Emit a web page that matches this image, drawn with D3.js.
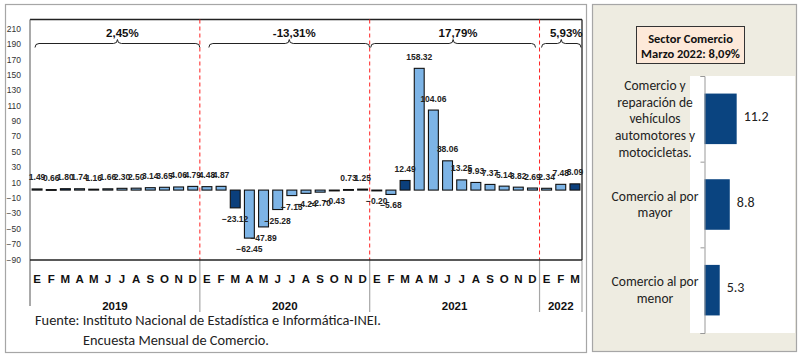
<!DOCTYPE html>
<html><head><meta charset="utf-8">
<script src="https://cdn.jsdelivr.net/npm/d3@7"></script>
<style>
body{margin:0;background:#fff;}
svg{display:block;}
</style></head>
<body>
<svg id="c" width="800" height="357"></svg>
<script>
// ---- data ----
const months = ["E","F","M","A","M","J","J","A","S","O","N","D"];
const years = ["2019","2020","2021","2022"];
const v2019 = [1.49,0.66,1.80,1.74,1.16,1.66,2.30,2.50,3.14,3.65,4.06,4.79];
const v2020 = [4.48,4.87,-23.12,-62.45,-47.89,-25.28,-7.15,-4.24,-2.70,-0.43,0.73,1.25];
const v2021 = [-0.20,-5.68,12.49,158.32,104.06,38.06,13.25,9.93,7.37,5.14,3.82,2.69];
const v2022 = [2.34,7.48,8.09];
const yearGrowth = ["2,45%","-13,31%","17,79%","5,93%"];
const yTicks = [210,190,170,150,130,110,90,70,50,30,10,-10,-30,-50,-70,-90];
const highlightMonth = "M"; // March bars in dark
const sectorTitle = ["Sector Comercio","Marzo 2022: 8,09%"];
const sectorCats = [
  ["Comercio y","reparación de","vehículos","automotores y","motocicletas."],
  ["Comercio al por","mayor"],
  ["Comercio al por","menor"]
];
const sectorVals = [11.2, 8.8, 5.3];
const source = ["Fuente: Instituto Nacional de Estadística e Informática-INEI.","Encuesta Mensual de Comercio."];

const yearVals = [v2019,v2020,v2021,v2022];
const data = [];
yearVals.forEach((arr,yi)=>arr.forEach((v,mi)=>data.push({year:years[yi],yi,mi,m:months[mi],v,i:data.length})));

const svg = d3.select("#c");
const NARROW = "'Liberation Sans Narrow','Arial Narrow','Liberation Sans',Arial,sans-serif";
const SANS = "'Liberation Sans',Arial,sans-serif";
const CAL = "Carlito,Calibri,Lato,'Liberation Sans',sans-serif";
const DARK = "#0b3f7c", LIGHT = "#7db4e6";

// ---- left panel ----
svg.append("rect").attr("x",5.5).attr("y",4.5).attr("width",581).attr("height",348)
  .attr("fill","#fff").attr("stroke","#a6a6a6").attr("stroke-width",1.2);

const L=30, R=582, T=19.5, B=260;
const x = d3.scaleBand().domain(d3.range(data.length)).range([L,R]).paddingInner(0.3).paddingOuter(0.15);
const y = d3.scaleLinear().domain([-90,210]).range([259.3,28.6]);
const step = x.step();
const bound = k => L + k*step;

// frame top and right
svg.append("line").attr("x1",L).attr("x2",R).attr("y1",T).attr("y2",T).attr("stroke","#222").attr("stroke-width",1.3);
svg.append("line").attr("x1",R).attr("x2",R).attr("y1",T).attr("y2",B).attr("stroke","#222").attr("stroke-width",1.3);

// y axis
const yAxis = d3.axisLeft(y).tickValues(yTicks).tickSize(0).tickPadding(9).tickFormat(d3.format("d"));
const gy = svg.append("g").attr("transform",`translate(${L},0)`).call(yAxis);
gy.select(".domain").remove();
gy.selectAll("text").attr("font-family",NARROW).attr("font-size",8.5).attr("fill","#333");
svg.append("line").attr("x1",L).attr("x2",L).attr("y1",T).attr("y2",306).attr("stroke","#555").attr("stroke-width",1);

// year separators below axis
[12,24,36,39].forEach(k=>{
  svg.append("line").attr("x1",bound(k)).attr("x2",bound(k)).attr("y1",B).attr("y2",312)
    .attr("stroke","#a6a6a6").attr("stroke-width",1.2);
});

// red dashed lines
[12,24,36].forEach(k=>{
  svg.append("line").attr("x1",bound(k)).attr("x2",bound(k)).attr("y1",T).attr("y2",B)
    .attr("stroke","#ff2020").attr("stroke-width",1).attr("stroke-dasharray","4,3");
});

// bars
svg.append("g").selectAll("rect").data(data).join("rect")
  .attr("x",d=>x(d.i)).attr("width",x.bandwidth())
  .attr("y",d=>Math.min(y(d.v),y(0)))
  .attr("height",d=>Math.max(0.8,Math.abs(y(d.v)-y(0))))
  .attr("fill",d=>d.m===highlightMonth && d.mi===2 ? DARK : LIGHT)
  .attr("stroke","#111").attr("stroke-width",1.1);

// bottom axis line
svg.append("line").attr("x1",L).attr("x2",R).attr("y1",B).attr("y2",B).attr("stroke","#222").attr("stroke-width",1.3);

// bar labels
svg.append("g").selectAll("text").data(data).join("text")
  .attr("x",d=>x(d.i)+x.bandwidth()/2)
  .attr("y",d=>d.v>=0 ? y(d.v)-8.5 : y(d.v)+14)
  .attr("text-anchor","middle")
  .attr("font-family",NARROW).attr("font-weight","bold").attr("font-size",8.5).attr("fill","#222")
  .text(d=>d3.format(".2f")(d.v));

// month labels
svg.append("g").selectAll("text").data(data).join("text")
  .attr("x",d=>x(d.i)+x.bandwidth()/2).attr("y",282.5)
  .attr("text-anchor","middle").attr("font-family",SANS).attr("font-weight","bold").attr("font-size",11.5).attr("fill","#111")
  .text(d=>d.m);

// year labels
const yearSpans = [[0,12],[12,24],[24,36],[36,39]];
svg.append("g").selectAll("text").data(years).join("text")
  .attr("x",(d,i)=>(bound(yearSpans[i][0])+bound(yearSpans[i][1]))/2).attr("y",309.5)
  .attr("text-anchor","middle").attr("font-family",SANS).attr("font-weight","bold").attr("font-size",11.5).attr("fill","#111")
  .text(d=>d);

// braces
const braceIns = [[5,0],[9,0],[1,4],[2,1]];
function brace(x1,x2,yy){
  const m=(x1+x2)/2, h=4;
  return `M${x1},${yy+h} Q${x1},${yy} ${x1+h},${yy} L${m-h},${yy} Q${m},${yy} ${m},${yy-h} Q${m},${yy} ${m+h},${yy} L${x2-h},${yy} Q${x2},${yy} ${x2},${yy+h}`;
}
yearSpans.forEach((s,i)=>{
  const x1=bound(s[0])+braceIns[i][0], x2=bound(s[1])-braceIns[i][1];
  svg.append("path").attr("d",brace(x1,x2,43.5)).attr("fill","none").attr("stroke","#222").attr("stroke-width",1);
  svg.append("text").attr("x",(x1+x2)/2+5).attr("y",36.5).attr("text-anchor","middle")
    .attr("font-family",NARROW).attr("font-weight","bold").attr("font-size",11.5).attr("fill","#111").text(yearGrowth[i]);
});

// source text
svg.append("text").attr("x",35).attr("y",324.5).attr("font-family",CAL).attr("font-size",14).attr("fill","#222")
  .attr("textLength",346).attr("lengthAdjust","spacingAndGlyphs").text(source[0]);
svg.append("text").attr("x",83).attr("y",344.5).attr("font-family",CAL).attr("font-size",14).attr("fill","#222")
  .attr("textLength",186).attr("lengthAdjust","spacingAndGlyphs").text(source[1]);

// ---- right panel ----
svg.append("rect").attr("x",592.5).attr("y",4.5).attr("width",204).attr("height",347)
  .attr("fill","#eeece1").attr("stroke","#a6a6a6").attr("stroke-width",1.2);
svg.append("rect").attr("x",690).attr("y",76).attr("width",105).attr("height",257).attr("fill","#fff");
svg.append("rect").attr("x",636.5).attr("y",26.5).attr("width",108).attr("height",37)
  .attr("fill","#fde9d9").attr("stroke","#333").attr("stroke-width",1);
svg.append("g").selectAll("text").data(sectorTitle).join("text")
  .attr("x",690.5).attr("y",(d,i)=>42.5+i*15).attr("text-anchor","middle")
  .attr("font-family",CAL).attr("font-weight","bold").attr("font-size",12.5).attr("fill","#111").text(d=>d);

const ys = d3.scaleBand().domain(d3.range(sectorVals.length)).range([76,333]).paddingInner(0.41).paddingOuter(0.205);
const xs = d3.scaleLinear().domain([0,31.5]).range([704.5,795]);
svg.append("g").selectAll("rect").data(sectorVals).join("rect")
  .attr("x",xs(0)).attr("y",(d,i)=>ys(i)).attr("width",d=>xs(d)-xs(0)).attr("height",ys.bandwidth())
  .attr("fill","#0a4480");
const yAx = d3.axisLeft(d3.scaleLinear().domain([0,3]).range([76,333])).ticks(3).tickSize(4).tickFormat("");
const gys = svg.append("g").attr("transform",`translate(${xs(0)},0)`).call(yAx);
gys.selectAll("path,line").attr("stroke","#999");
svg.append("g").selectAll("text").data(sectorVals).join("text")
  .attr("x",d=>xs(d)+7).attr("y",(d,i)=>ys(i)+ys.bandwidth()/2+2)
  .attr("font-family",CAL).attr("font-size",14).attr("fill","#222").text(d=>d3.format(".1f")(d));
sectorCats.forEach((lines,i)=>{
  const cy = ys(i)+ys.bandwidth()/2;
  const lh = 16.8;
  const t = svg.append("text").attr("text-anchor","middle").attr("font-family",CAL).attr("font-size",13.5).attr("fill","#222");
  lines.forEach((ln,j)=>{
    t.append("tspan").attr("x",655).attr("y",cy - (lines.length-1)*lh/2 + j*lh + 4.5).text(ln);
  });
});
</script>
</body></html>
